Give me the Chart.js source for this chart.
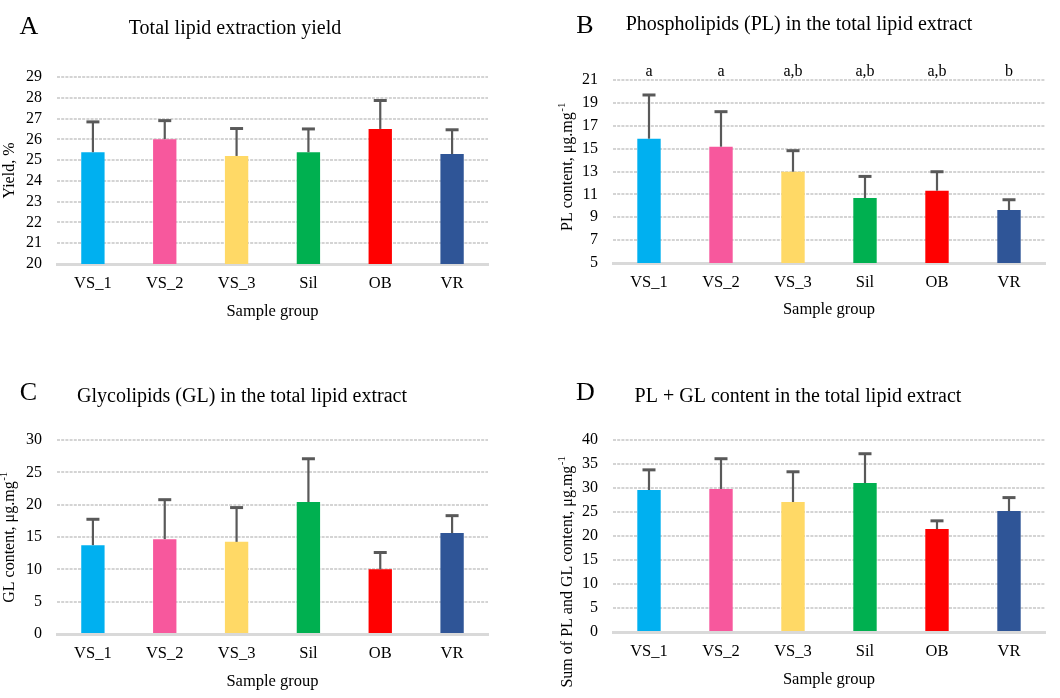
<!DOCTYPE html>
<html><head><meta charset="utf-8">
<script src="https://cdn.jsdelivr.net/npm/chart.js@4.4.0/dist/chart.umd.min.js"></script>
<style>
html,body{margin:0;padding:0;background:#fff;}
#wrap{position:relative;width:1060px;height:698px;overflow:hidden;}
canvas{position:absolute;}
</style></head><body>
<div id="wrap">
<canvas id="cA" width="530" height="349" style="left:0;top:0"></canvas>
<canvas id="cB" width="530" height="349" style="left:530px;top:0"></canvas>
<canvas id="cC" width="530" height="349" style="left:0;top:349px"></canvas>
<canvas id="cD" width="530" height="349" style="left:530px;top:349px"></canvas>
</div>
<script>
// ---- data ----
const categories = ['VS_1', 'VS_2', 'VS_3', 'Sil', 'OB', 'VR'];
const barColors = ['#00B0F0', '#F7589D', '#FFD966', '#00B050', '#FF0000', '#2F5597'];

const yieldMeans = [25.38, 26.01, 25.20, 25.38, 26.50, 25.29];
const yieldSD    = [1.46, 0.89, 1.32, 1.12, 1.37, 1.17];

const plMeans   = [15.87, 15.17, 12.98, 10.68, 11.32, 9.63];
const plSD      = [3.82, 3.06, 1.84, 1.89, 1.66, 0.90];
const plLetters = ['a', 'a', 'a,b', 'a,b', 'a,b', 'b'];

const glMeans = [13.74, 14.67, 14.25, 20.40, 10.00, 15.60];
const glSD    = [4.00, 6.10, 5.30, 6.70, 2.60, 2.70];

const sumMeans = [29.58, 29.80, 27.08, 31.04, 21.46, 25.20];
const sumSD    = [4.20, 6.30, 6.30, 6.10, 1.70, 2.80];

const FONT = "'Liberation Serif', 'Times New Roman', serif";

// ---- plugins ----
const errorBars = {
  id: 'errorBars',
  afterDatasetsDraw(chart, args, opts) {
    const sd = opts.sd; if (!sd) return;
    const meta = chart.getDatasetMeta(0);
    const ys = chart.scales.y;
    const ctx = chart.ctx;
    ctx.save();
    ctx.strokeStyle = '#595959';
    const data = chart.data.datasets[0].data;
    meta.data.forEach((bar, i) => {
      const x = bar.x;
      const y0 = ys.getPixelForValue(data[i]);
      const y1 = ys.getPixelForValue(data[i] + sd[i]);
      ctx.lineWidth = 2.2;
      ctx.beginPath(); ctx.moveTo(x, y0); ctx.lineTo(x, y1); ctx.stroke();
      ctx.lineWidth = 3;
      ctx.beginPath(); ctx.moveTo(x - 6.5, y1); ctx.lineTo(x + 6.5, y1); ctx.stroke();
    });
    ctx.restore();
  }
};

const panelText = {
  id: 'panelText',
  afterDraw(chart, args, o) {
    const ctx = chart.ctx;
    ctx.save();
    ctx.fillStyle = '#000';
    ctx.textBaseline = 'middle';
    ctx.textAlign = 'center';
    ctx.font = '26px ' + FONT;
    ctx.fillText(o.letter, o.letterX, o.letterY);
    ctx.font = '20px ' + FONT;
    ctx.fillText(o.title, o.titleX, o.titleY);
    if (o.marks) {
      ctx.font = '16px ' + FONT;
      const meta = chart.getDatasetMeta(0);
      meta.data.forEach((bar, i) => ctx.fillText(o.marks[i], bar.x, chart.chartArea.top - 8));
    }
    ctx.translate(o.yX, o.yY);
    ctx.rotate(-Math.PI / 2);
    ctx.textAlign = 'left';
    ctx.font = '16px ' + FONT;
    const w1 = ctx.measureText(o.yTitle).width;
    let w2 = 0;
    if (o.ySup) { ctx.font = '11px ' + FONT; w2 = ctx.measureText(o.ySup).width; }
    const start = -(w1 + w2) / 2;
    ctx.font = '16px ' + FONT;
    ctx.fillText(o.yTitle, start, 0);
    if (o.ySup) { ctx.font = '11px ' + FONT; ctx.fillText(o.ySup, start + w1 + 0.5, -6); }
    ctx.restore();
  }
};

function makeChart(id, means, sd, yMin, yMax, step, lay, text) {
  return new Chart(document.getElementById(id), {
    type: 'bar',
    data: {
      labels: categories,
      datasets: [{ data: means, backgroundColor: barColors, borderWidth: 0,
        categoryPercentage: 1, barPercentage: 0.325 }]
    },
    plugins: [errorBars, panelText],
    options: {
      responsive: false,
      animation: false,
      devicePixelRatio: 1,
      layout: { padding: { top: lay.top, right: lay.right, left: 0, bottom: 0 } },
      plugins: {
        legend: { display: false },
        tooltip: { enabled: false },
        errorBars: { sd: sd },
        panelText: text
      },
      scales: {
        x: {
          z: 1,
          grid: { display: false, drawTicks: false },
          border: { display: true, color: '#D9D9D9', width: 3 },
          ticks: { color: '#000', padding: 10, font: { family: FONT, size: 16.5 } },
          title: { display: true, text: 'Sample group', color: '#000',
            font: { family: FONT, size: 16.5 }, padding: { top: 0, bottom: lay.xTitlePad } },
          afterFit(s) { s.height = lay.xh; }
        },
        y: {
          min: yMin, max: yMax,
          grid: { drawTicks: false, lineWidth: 2,
            color: c => (c.index === 0 ? 'rgba(0,0,0,0)' : '#D4D4D4') },
          border: { display: false, dash: [3, 1.2] },
          ticks: { stepSize: step, autoSkip: false, color: '#000', padding: 15,
            font: { family: FONT, size: 16 } },
          afterFit(s) { s.width = lay.yw; }
        }
      }
    }
  });
}

makeChart('cA', yieldMeans, yieldSD, 20, 29, 1,
  { top: 77, right: 42, yw: 57, xh: 85, xTitlePad: 27 },
  { letter: 'A', letterX: 29, letterY: 27, title: 'Total lipid extraction yield', titleX: 235, titleY: 29,
    yTitle: 'Yield, %', yX: 10, yY: 170.5 });

makeChart('cB', plMeans, plSD, 5, 21, 2,
  { top: 80, right: 15, yw: 83, xh: 86, xTitlePad: 29 },
  { letter: 'B', letterX: 55, letterY: 26, title: 'Phospholipids (PL) in the total lipid extract', titleX: 269, titleY: 25,
    yTitle: 'PL content, \u03bcg.mg', ySup: '-1', yX: 38, yY: 167, marks: plLetters });

makeChart('cC', glMeans, glSD, 0, 30, 5,
  { top: 91, right: 42, yw: 57, xh: 64, xTitlePad: 6 },
  { letter: 'C', letterX: 28.5, letterY: 44, title: 'Glycolipids (GL) in the total lipid extract', titleX: 242, titleY: 48,
    yTitle: 'GL content, \u03bcg.mg', ySup: '-1', yX: 10, yY: 188.5 });

makeChart('cD', sumMeans, sumSD, 0, 40, 5,
  { top: 91, right: 15, yw: 83, xh: 66, xTitlePad: 8 },
  { letter: 'D', letterX: 55.5, letterY: 44, title: 'PL + GL content in the total lipid extract', titleX: 268, titleY: 48,
    yTitle: 'Sum of PL and GL content, \u03bcg.mg', ySup: '-1', yX: 38, yY: 223 });
</script>
</body></html>
